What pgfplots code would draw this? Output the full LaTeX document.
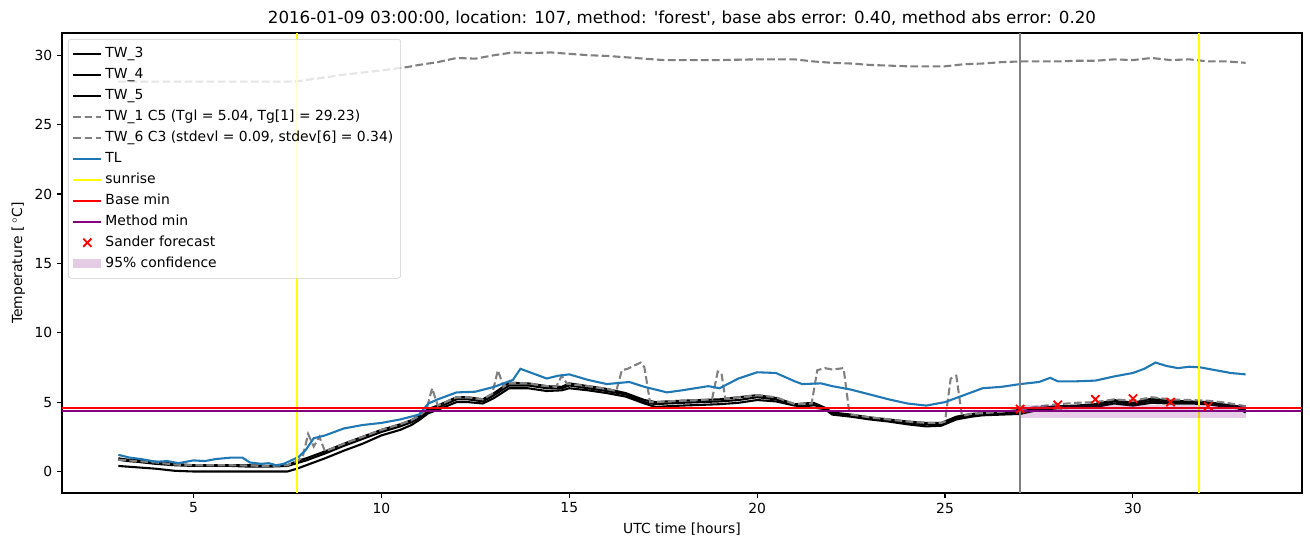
\documentclass[border=0pt]{standalone}
\usepackage{pgfplots}
\pgfplotsset{compat=1.18}
\usepackage{fontspec}
\setmainfont{DejaVu Sans}
\usetikzlibrary{calc}
\definecolor{mplblue}{HTML}{1F77B4}
\definecolor{mplgray}{HTML}{808080}
\definecolor{mplyellow}{HTML}{FFFF00}
\definecolor{mplred}{HTML}{FF0000}
\definecolor{mplpurple}{HTML}{800080}
\begin{document}
\begin{tikzpicture}
\begin{axis}[
  scale only axis,
  width=892.8pt, height=331.2pt,
  xmin=1.5, xmax=34.5, ymin=-1.55, ymax=31.6,
  xtick={5,10,15,20,25,30}, ytick={0,5,10,15,20,25,30},
  tick align=outside, major tick length=3.5pt,
  tick style={black, line width=0.8pt},
  axis line style={line width=0.8pt},
  xtick pos=bottom, ytick pos=left,
  /pgf/number format/assume math mode=true,
  ticklabel style={font=\fontsize{10}{12}\selectfont},
  xlabel={UTC time [hours]}, ylabel={Temperature [\,$^\circ$C]},
  label style={font=\fontsize{10}{12}\selectfont},
  title={2016-01-09 03:00:00, location: 107, method: \textquotesingle forest\textquotesingle, base abs error: 0.40, method abs error: 0.20},
  title style={font=\fontsize{12}{14}\selectfont, yshift=-4pt},
  clip=true,
  legend cell align=left,
  legend image code/.code={\draw[mark repeat=2,mark phase=2,#1] plot coordinates {(0pt,0pt) (10pt,0pt) (20pt,0pt)};},
  legend style={at={(0,1)}, anchor=north west, xshift=4.3pt, yshift=-4.3pt,
    draw=black!20, fill=white, fill opacity=0.8, draw opacity=1, text opacity=1,
    rounded corners=2pt, font=\fontsize{10}{12}\selectfont,
    inner xsep=3pt, inner ysep=3pt, row sep=0pt,
    nodes={inner sep=2.3pt, text height=8pt, text depth=2.5pt}},
]
% TW_3
\addplot[black, line width=1.5pt, forget plot] coordinates {
(3.0,0.95)(3.25,0.85)(3.5,0.85)(4.0,0.70)(4.5,0.55)(5.0,0.45)(5.5,0.45)(6.0,0.45)(6.5,0.45)(7.0,0.40)(7.5,0.45)(7.75,0.75)(8.0,0.95)(8.5,1.45)(9.0,2.00)(9.5,2.50)(10.0,3.00)(10.5,3.40)(10.8,3.70)(11.0,4.00)(11.25,4.50)(11.5,4.75)(12.0,5.35)(12.3,5.35)(12.7,5.20)(13.0,5.65)(13.4,6.40)(13.9,6.35)(14.4,6.15)(14.8,6.10)(15.0,6.35)(15.5,6.15)(16.0,5.95)(16.5,5.65)(17.0,5.15)(17.3,5.00)(17.6,5.05)(18.0,5.10)(18.5,5.15)(19.0,5.20)(19.5,5.35)(20.0,5.50)(20.5,5.30)(21.0,4.85)(21.5,4.95)(21.8,4.60)(22.0,4.25)(22.5,4.10)(23.0,3.90)(23.5,3.75)(24.0,3.60)(24.5,3.50)(24.9,3.50)(25.3,3.95)(25.7,4.15)(26.0,4.20)(26.5,4.25)(27.0,4.45)(27.5,4.60)(28.0,4.70)(28.5,4.75)(29.0,4.85)(29.5,5.15)(30.0,4.95)(30.5,5.25)(31.0,5.10)(31.5,5.05)(32.0,5.00)(32.5,4.80)(32.8,4.70)(33.0,4.55)};
% TW_4
\addplot[black, line width=1.5pt, forget plot] coordinates {
(3.0,0.85)(3.25,0.75)(3.5,0.70)(4.0,0.55)(4.5,0.45)(5.0,0.40)(5.5,0.40)(6.0,0.40)(6.5,0.35)(7.0,0.35)(7.5,0.40)(7.75,0.60)(8.0,0.80)(8.5,1.30)(9.0,1.85)(9.5,2.35)(10.0,2.85)(10.5,3.25)(10.8,3.55)(11.0,3.85)(11.25,4.35)(11.5,4.60)(12.0,5.20)(12.3,5.20)(12.7,5.05)(13.0,5.50)(13.4,6.20)(13.9,6.20)(14.4,6.00)(14.8,6.00)(15.0,6.20)(15.5,6.00)(16.0,5.80)(16.5,5.55)(17.0,5.00)(17.3,4.85)(17.6,4.90)(18.0,4.95)(18.5,5.00)(19.0,5.05)(19.5,5.15)(20.0,5.35)(20.5,5.20)(21.0,4.80)(21.5,4.80)(21.8,4.55)(22.0,4.20)(22.5,4.05)(23.0,3.85)(23.5,3.70)(24.0,3.50)(24.5,3.40)(24.9,3.40)(25.3,3.85)(25.7,4.05)(26.0,4.15)(26.5,4.20)(27.0,4.30)(27.5,4.55)(28.0,4.65)(28.5,4.70)(29.0,4.75)(29.5,5.05)(30.0,4.85)(30.5,5.10)(31.0,5.00)(31.5,5.00)(32.0,4.95)(32.5,4.75)(32.8,4.60)(33.0,4.40)};
% TW_5
\addplot[black, line width=1.5pt, forget plot] coordinates {
(3.0,0.40)(3.25,0.35)(3.5,0.30)(4.0,0.20)(4.5,0.05)(5.0,0.00)(5.5,0.00)(6.0,0.00)(6.5,0.00)(7.0,0.00)(7.5,0.00)(7.75,0.20)(8.0,0.45)(8.5,0.95)(9.0,1.50)(9.5,2.00)(10.0,2.60)(10.5,3.00)(10.8,3.35)(11.0,3.70)(11.25,4.20)(11.5,4.45)(12.0,5.00)(12.3,5.00)(12.7,4.90)(13.0,5.30)(13.4,6.00)(13.9,6.00)(14.4,5.80)(14.8,5.85)(15.0,6.00)(15.5,5.85)(16.0,5.65)(16.5,5.40)(17.0,4.90)(17.3,4.65)(17.6,4.70)(18.0,4.75)(18.5,4.80)(19.0,4.85)(19.5,4.95)(20.0,5.15)(20.5,5.05)(21.0,4.75)(21.5,4.60)(21.8,4.50)(22.0,4.10)(22.5,3.95)(23.0,3.75)(23.5,3.60)(24.0,3.40)(24.5,3.25)(24.9,3.30)(25.3,3.75)(25.7,3.95)(26.0,4.05)(26.5,4.10)(27.0,4.15)(27.5,4.45)(28.0,4.55)(28.5,4.60)(29.0,4.65)(29.5,4.90)(30.0,4.75)(30.5,4.95)(31.0,4.90)(31.5,4.90)(32.0,4.85)(32.5,4.65)(32.8,4.55)(33.0,4.25)};
% TW_1
\addplot[mplgray, line width=1.5pt, dash pattern=on 5.55pt off 2.4pt, forget plot] coordinates {
(3.0,28.1)(5.0,28.1)(7.7,28.1)(8.5,28.4)(9.0,28.6)(9.5,28.75)(10.0,28.9)(10.7,29.15)(11.0,29.3)(11.5,29.5)(12.0,29.8)(12.5,29.75)(13.0,30.0)(13.5,30.2)(14.0,30.15)(14.5,30.2)(15.0,30.1)(15.5,30.0)(16.0,29.95)(16.5,29.85)(17.0,29.75)(17.5,29.65)(18.0,29.65)(19.0,29.65)(20.0,29.7)(21.0,29.7)(21.5,29.55)(22.0,29.45)(22.5,29.4)(23.0,29.3)(24.0,29.2)(25.0,29.2)(25.5,29.35)(26.0,29.4)(26.5,29.5)(27.0,29.55)(28.0,29.55)(28.5,29.6)(29.0,29.6)(29.5,29.7)(30.0,29.65)(30.5,29.8)(31.0,29.65)(31.5,29.7)(32.0,29.55)(32.5,29.55)(33.0,29.45)};
% TW_6
\addplot[mplgray, line width=1.5pt, dash pattern=on 5.55pt off 2.4pt, forget plot] coordinates {
(3.0,0.85)(3.5,0.75)(4.0,0.65)(4.5,0.5)(5.0,0.45)(6.0,0.45)(7.0,0.4)(7.5,0.45)(7.75,0.75)(7.9,1.0)(8.05,2.7)(8.2,1.8)(8.35,2.5)(8.5,1.45)(9.0,2.0)(9.5,2.5)(10.0,3.0)(10.5,3.4)(10.8,3.7)(11.0,4.0)(11.2,4.45)(11.35,6.0)(11.5,4.75)(12.0,5.35)(12.3,5.35)(12.7,5.2)(12.95,5.6)(13.1,7.3)(13.25,6.1)(13.4,6.4)(13.9,6.35)(14.4,6.15)(14.65,6.1)(14.8,6.9)(14.95,6.3)(15.0,6.3)(15.5,6.15)(16.0,5.95)(16.25,5.8)(16.4,7.3)(16.55,7.4)(16.7,7.6)(16.9,7.85)(17.0,7.5)(17.15,5.0)(17.3,5.0)(17.6,5.05)(18.0,5.1)(18.5,5.15)(18.8,5.2)(18.95,7.2)(19.05,7.1)(19.15,5.25)(19.5,5.35)(20.0,5.5)(20.5,5.35)(21.0,4.85)(21.45,4.9)(21.6,7.3)(21.8,7.45)(22.0,7.35)(22.3,7.45)(22.45,4.3)(22.5,4.1)(23.0,3.9)(23.5,3.75)(24.0,3.6)(24.5,3.5)(24.9,3.5)(25.0,3.6)(25.15,6.7)(25.3,6.9)(25.45,4.0)(25.7,4.15)(26.0,4.2)(26.5,4.3)(27.0,4.45)(27.5,4.7)(28.0,4.85)(28.5,4.95)(29.0,5.0)(29.5,5.2)(30.0,5.1)(30.5,5.35)(31.0,5.2)(31.5,5.15)(32.0,5.1)(32.5,4.95)(33.0,4.7)};
% TL
\addplot[mplblue, line width=1.5pt, forget plot] coordinates {
(3.0,1.2)(3.3,1.0)(3.6,0.9)(4.0,0.7)(4.3,0.75)(4.6,0.6)(5.0,0.8)(5.3,0.75)(5.6,0.9)(6.0,1.0)(6.3,1.0)(6.5,0.65)(6.8,0.55)(7.0,0.6)(7.2,0.45)(7.4,0.55)(7.6,0.8)(7.8,1.05)(8.0,1.6)(8.2,2.4)(8.5,2.6)(9.0,3.1)(9.5,3.35)(10.0,3.5)(10.5,3.75)(11.0,4.1)(11.25,4.9)(11.5,5.2)(12.0,5.7)(12.5,5.75)(13.0,6.1)(13.5,6.6)(13.7,7.4)(14.0,7.1)(14.4,6.7)(14.7,6.9)(15.0,7.0)(15.5,6.6)(16.0,6.3)(16.6,6.45)(17.0,6.1)(17.6,5.7)(18.0,5.85)(18.7,6.15)(19.0,6.0)(19.5,6.7)(20.0,7.15)(20.5,7.1)(21.0,6.5)(21.2,6.3)(21.7,6.35)(22.0,6.15)(22.5,5.9)(23.0,5.55)(23.5,5.2)(24.0,4.9)(24.5,4.75)(25.0,5.0)(25.5,5.5)(26.0,6.0)(26.5,6.1)(27.0,6.3)(27.5,6.45)(27.8,6.75)(28.0,6.5)(28.5,6.5)(29.0,6.55)(29.5,6.85)(30.0,7.1)(30.3,7.4)(30.6,7.85)(30.9,7.6)(31.2,7.45)(31.5,7.55)(31.8,7.5)(32.2,7.3)(32.6,7.1)(33.0,7.0)};
% sunrise
\addplot[mplyellow, line width=1.5pt, forget plot] coordinates {(7.75,-1.55)(7.75,31.6)};
\addplot[mplyellow, line width=1.5pt, forget plot] coordinates {(31.75,-1.55)(31.75,31.6)};
% base / method min
\addplot[mplred, line width=1.5pt, forget plot] coordinates {(1.5,4.55)(34.5,4.55)};
\addplot[mplpurple, line width=1.5pt, forget plot] coordinates {(1.5,4.35)(34.5,4.35)};
% forecast
\addplot[only marks, mark=x, mark size=4.2pt, mplred, line width=1.3pt, forget plot] coordinates {
(27,4.5)(28,4.8)(29,5.2)(30,5.25)(31,5.0)(32,4.7)};
% confidence
\addplot[fill=mplpurple, fill opacity=0.2, draw=none, forget plot] coordinates {
(27,3.87)(33,3.87)(33,4.82)(27,4.82)} -- cycle;
% now line
\addplot[mplgray, line width=1.5pt, forget plot] coordinates {(27,-1.55)(27,31.6)};
% legend
\addlegendimage{black, line width=1.5pt}\addlegendentry{TW\_3}
\addlegendimage{black, line width=1.5pt}\addlegendentry{TW\_4}
\addlegendimage{black, line width=1.5pt}\addlegendentry{TW\_5}
\addlegendimage{mplgray, line width=1.5pt, dash pattern=on 5.55pt off 2.4pt}\addlegendentry{TW\_1 C5 (Tgl = 5.04, Tg[1] = 29.23)}
\addlegendimage{mplgray, line width=1.5pt, dash pattern=on 5.55pt off 2.4pt}\addlegendentry{TW\_6 C3 (stdevl = 0.09, stdev[6] = 0.34)}
\addlegendimage{mplblue, line width=1.5pt}\addlegendentry{TL}
\addlegendimage{mplyellow, line width=1.5pt}\addlegendentry{sunrise}
\addlegendimage{mplred, line width=1.5pt}\addlegendentry{Base min}
\addlegendimage{mplpurple, line width=1.5pt}\addlegendentry{Method min}
\addlegendimage{only marks, mark=x, mark size=4.2pt, mplred, line width=1.3pt}\addlegendentry{Sander forecast}
\addlegendimage{draw=none, legend image code/.code={\path[fill=mplpurple, fill opacity=0.2, draw=none, sharp corners] (0pt,-3.5pt) rectangle (20pt,3.5pt);}}\addlegendentry{95\% confidence}
\end{axis}
\path ($(current axis.south west)+(-44.64pt,-38.88pt)$) rectangle ($(current axis.north east)+(5.76pt,23.76pt)$);
\end{tikzpicture}
\end{document}
